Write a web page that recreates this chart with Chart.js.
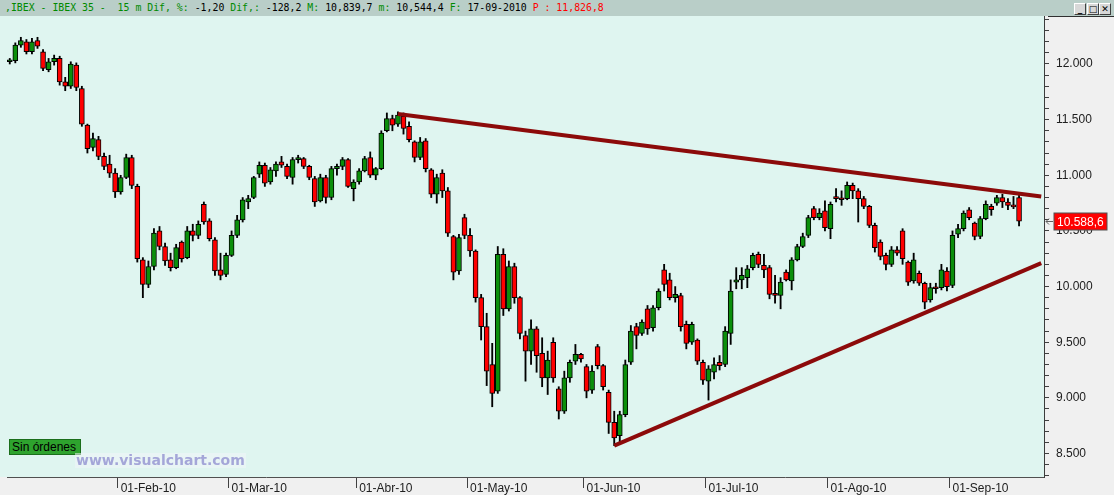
<!DOCTYPE html>
<html>
<head>
<meta charset="utf-8">
<script src="https://cdn.jsdelivr.net/npm/chart.js@4.4.1/dist/chart.umd.min.js"></script>
<style>
  html, body { margin: 0; padding: 0; background: #f0f0f0; }
  #wrap { position: relative; width: 1114px; height: 495px; overflow: hidden; }
  #bar { position: absolute; left: 0; top: 0; width: 1114px; height: 16px; background: #b9cec8;
         font: 9.85px "DejaVu Sans Mono", monospace; line-height: 16px; white-space: pre; }
  #bar .txt { position: absolute; left: 5px; top: 0; }
  .g { color: #008a00; } .k { color: #000; } .r { color: #ff0000; }
  .btn { position: absolute; top: 3px; width: 10px; height: 10px; background: #d8d8d8;
         border: 1px solid; border-color: #fff #404040 #404040 #fff; font: bold 9px "DejaVu Sans", sans-serif;
         line-height: 10px; text-align: center; color: #000; }
  #c { position: absolute; left: 0; top: 16px; }
  #orders { position: absolute; left: 9px; top: 439px; width: 68px; height: 14px; background: #2ea32e;
            border: 1px solid #1b6e1b; font: 12px "Liberation Sans", sans-serif; white-space: nowrap;
            line-height: 14px; color: #000; padding-left: 2px; }
  #wm { position: absolute; left: 75px; top: 453px; height: 15px; padding: 0 1px; background: rgba(240,244,250,0.55);
        font: bold 14px "DejaVu Sans", sans-serif; line-height: 15px; color: #a4a6d8; white-space: nowrap; }
</style>
</head>
<body>
<div id="wrap">
  <div id="bar"><span class="txt"><span class="g">,IBEX - IBEX 35 -  15 m Dif, %:</span> <span class="k">-1,20</span> <span class="g">Dif,:</span> <span class="k">-128,2</span> <span class="g">M:</span> <span class="k">10,839,7</span> <span class="g">m:</span> <span class="k">10,544,4</span> <span class="g">F:</span> <span class="k">17-09-2010</span> <span class="r">P : 11,826,8</span></span>
    <div class="btn" style="left:1074px">_</div>
    <div class="btn" style="left:1087px">&#9633;</div>
    <div class="btn" style="left:1099px">&#10005;</div>
  </div>
  <canvas id="c" width="1114" height="479"></canvas>
  <div id="orders">Sin órdenes</div>
  <div id="wm">www.visualchart.com</div>
</div>
<script>
/* IBEX 35, Jan-Sep 2010, one candle per session */

const monthNames = ['Ene', 'Feb', 'Mar', 'Abr', 'May', 'Jun', 'Jul', 'Ago', 'Sep'];
// trading sessions per month; the last four September days are empty room on the right
const sessionDays = [
  [4,5,6,7,8,11,12,13,14,15,18,19,20,21,22,25,26,27,28,29],
  [1,2,3,4,5,8,9,10,11,12,15,16,17,18,19,22,23,24,25,26],
  [1,2,3,4,5,8,9,10,11,12,15,16,17,18,19,22,23,24,25,26,29,30,31],
  [1,6,7,8,9,12,13,14,15,16,19,20,21,22,23,26,27,28,29,30],
  [3,4,5,6,7,10,11,12,13,14,17,18,19,20,21,24,25,26,27,28,31],
  [1,2,3,4,7,8,9,10,11,14,15,16,17,18,21,22,23,24,25,28,29,30],
  [1,2,5,6,7,8,9,12,13,14,15,16,19,20,21,22,23,26,27,28,29,30],
  [2,3,4,5,6,9,10,11,12,13,16,17,18,19,20,23,24,25,26,27,30,31],
  [1,2,3,6,7,8,9,10,13,14,15,16,17,20,21,22,23]
];

const opens = [
  12020,12030,12170,12200,12110,12210,12110,11950,12020,12050,11840,11800,11990,11780,11450,11250,11320,11170,11100,11020,
  10850,10980,11160,10900,10240,10020,10180,10500,10360,10240,10170,10400,10260,10500,10460,10740,10590,10420,10150,10110,
  10280,10460,10600,10760,10800,11010,11090,10940,11040,11120,11080,10980,11140,11150,11080,10970,10770,10980,10800,11060,11080,11140,10880,
  10940,11040,11160,11000,11060,11400,11510,11460,11530,11440,11300,11160,11310,11050,10830,11020,10860,10450,10140,10620,
  10460,10320,9900,9640,9300,9060,10290,9800,10180,9900,9560,9420,9620,9400,9180,9500,9080,8880,9180,9330,9390,
  9280,9070,9460,9290,9050,8780,8660,8850,9320,9640,9580,9800,9630,9810,10150,10060,9900,9920,9660,9500,9520,9320,
  9150,9230,9320,9300,9580,10040,10060,10080,10170,10290,10190,10170,9940,9920,10130,10050,10240,10360,10460,10700,10620,10680,
  10520,10800,10790,10790,10910,10860,10790,10720,10550,10400,10280,10200,10330,10500,10220,10050,10120,10030,9880,9990,9990,10140,
  10010,10470,10520,10690,10570,10450,10610,10720,10750,10800,10760,10730,10800
];
const highs = [
  12050,12190,12240,12220,12230,12240,12130,12050,12080,12070,11880,12020,12010,11800,11460,11380,11350,11200,11180,11060,
  11000,11190,11180,10920,10260,10230,10520,10540,10390,10300,10380,10410,10540,10560,10590,10760,10610,10440,10300,10300,
  10500,10640,10800,10820,10990,11120,11110,11070,11120,11170,11100,11160,11180,11160,11090,10990,11010,11000,11080,11100,11160,11150,10960,
  11060,11170,11210,11070,11400,11560,11540,11570,11560,11480,11310,11340,11330,11060,11010,11050,10890,10460,10470,10650,
  10520,10330,9930,9760,9490,10360,10340,10230,10210,9910,9600,9700,9640,9540,9420,9540,9100,9240,9340,9480,9400,
  9300,9290,9480,9300,9070,8880,8880,9340,9650,9670,9700,9830,9830,9980,10200,10120,10000,9940,9690,9680,9530,9340,
  9290,9360,9380,9640,10060,10170,10170,10190,10300,10310,10290,10190,10100,10080,10150,10260,10380,10480,10640,10720,10700,10770,
  10760,10880,10860,10940,10930,10880,10810,10730,10570,10420,10300,10360,10360,10520,10230,10300,10140,10040,10030,10030,10200,10170,
  10500,10560,10680,10710,10580,10630,10770,10740,10820,10830,10790,10810,10839.7
];
const lows = [
  12000,12010,12150,12090,12090,12140,11940,11930,11990,11810,11760,11780,11760,11440,11200,11220,11140,11050,10980,10800,
  10830,10970,10880,10220,9900,9990,10150,10330,10190,10140,10160,10220,10250,10410,10430,10560,10410,10100,10060,10090,
  10270,10440,10580,10700,10790,10980,10900,10920,10990,11070,10970,10920,11110,11060,10960,10720,10760,10750,10780,11000,11050,10890,10770,
  10920,11030,10980,10960,11050,11390,11400,11440,11370,11300,11120,11140,11030,10800,10750,10800,10450,10060,10110,10430,
  10270,9860,9520,9110,8920,9040,9740,9780,9850,9530,9150,9300,9230,9100,9030,9140,8810,8860,9140,9300,9320,
  9000,9040,9260,9070,8680,8570,8600,8830,9300,9440,9560,9570,9600,9790,9960,9880,9860,9600,9440,9480,9300,9120,
  8980,9170,9250,9280,9480,9980,9980,9990,10150,10170,10080,9890,9850,9800,10050,9970,10230,10350,10440,10600,10600,10500,
  10430,10760,10730,10780,10790,10580,10700,10530,10310,10240,10150,10180,10280,10200,10010,10030,10010,9800,9860,9940,9970,9960,
  9990,10440,10500,10600,10420,10430,10600,10640,10730,10710,10690,10700,10544.4
];
const closes = [
  12030,12170,12210,12110,12200,12160,11960,12020,12050,11840,11800,12000,11790,11460,11240,11330,11170,11080,11020,10850,
  10980,11160,10910,10250,10020,10180,10480,10360,10230,10170,10350,10250,10500,10460,10560,10580,10430,10140,10100,10280,
  10460,10600,10780,10790,10980,11090,10930,11050,11100,11090,10990,11140,11150,11080,10980,10760,10980,10800,11060,11080,11140,10900,10940,
  11040,11150,11000,11060,11380,11510,11450,11540,11420,11320,11160,11300,11060,10830,10980,10860,10480,10130,10440,10460,
  10320,9900,9640,9240,9040,10290,9800,10180,9900,9580,9420,9620,9380,9180,9340,9180,8880,9180,9320,9390,9350,
  9060,9240,9290,9100,8780,8640,8850,9300,9600,9560,9680,9620,9810,9960,10020,9900,9930,9640,9490,9660,9330,9160,
  9260,9300,9290,9600,9960,10060,10100,10160,10280,10200,10150,9930,9920,10040,10060,10240,10360,10450,10620,10620,10660,10530,
  10740,10790,10780,10910,10860,10790,10720,10550,10350,10270,10200,10330,10300,10250,10040,10240,10030,9860,9990,9980,10150,10000,
  10460,10520,10660,10620,10450,10610,10740,10690,10800,10760,10730,10716.8,10588.6
];

// hand-drawn trend lines: [session, level]
const resistance = [['2010-04-14', 11550], ['2010-09-23', 10810]];
const support = [['2010-06-08', 8570], ['2010-09-23', 10210]];

const lastClose = closes[closes.length - 1];

/* ---- category labels + month marks ---- */
const labels = [];
const monthMark = {};
sessionDays.forEach((days, m) => days.forEach((d, k) => {
  if (k === 0 && m > 0) monthMark[labels.length] = '01-' + monthNames[m] + '-10';
  labels.push('2010-' + String(m + 1).padStart(2, '0') + '-' + String(d).padStart(2, '0'));
}));

const fmtThousands = v => String(Math.round(v)).replace(/\B(?=(\d{3})+(?!\d))/g, '.');
const axisFont = { family: '"Liberation Sans", Arial, sans-serif', size: 12 };

/* ---- plugins: backgrounds and the last-price tag ---- */
const panelBg = {
  id: 'panelBg',
  beforeDraw(chart) {
    const { ctx, chartArea: a, width, height } = chart;
    ctx.save();
    ctx.fillStyle = '#f0f0f0';
    ctx.fillRect(0, 0, width, height);
    ctx.fillStyle = '#dff5f0';
    ctx.fillRect(0, 0, a.right, a.bottom);
    ctx.strokeStyle = '#303030';
    ctx.beginPath(); ctx.moveTo(a.right + 4, 0.5); ctx.lineTo(width, 0.5); ctx.stroke();
    ctx.restore();
  }
};

const priceTag = {
  id: 'priceTag',
  afterDraw(chart) {
    const { ctx, chartArea: a } = chart;
    const y = Math.round(chart.scales.y.getPixelForValue(lastClose)) + 0.5;
    ctx.save();
    ctx.strokeStyle = '#606060';
    ctx.beginPath();
    ctx.moveTo(a.right + 2, y); ctx.lineTo(a.right + 9, y);
    ctx.moveTo(a.right + 2, y); ctx.lineTo(a.right + 5, y - 3);
    ctx.moveTo(a.right + 2, y); ctx.lineTo(a.right + 5, y + 3);
    ctx.stroke();
    ctx.fillStyle = '#ff0000';
    ctx.fillRect(a.right + 10, y - 8.5, 53, 17);
    ctx.strokeStyle = '#505050';
    ctx.strokeRect(a.right + 10, y - 8.5, 53, 17);
    ctx.fillStyle = '#ffffff';
    ctx.font = axisFont.size + 'px ' + axisFont.family;
    ctx.textBaseline = 'middle';
    ctx.fillText(fmtThousands(Math.floor(lastClose)) + ',' + String(lastClose).split('.')[1], a.right + 13, y + 1);
    ctx.restore();
  }
};

new Chart(document.getElementById('c'), {
  type: 'bar',
  data: {
    labels,
    datasets: [
      { type: 'line', data: resistance.map(p => ({ x: p[0], y: p[1] })), borderColor: '#8c0a0a', borderWidth: 4,
        pointRadius: 0, order: 0 },
      { type: 'line', data: support.map(p => ({ x: p[0], y: p[1] })), borderColor: '#8c0a0a', borderWidth: 4,
        pointRadius: 0, order: 0 },
      { data: opens.map((o, i) => [o, closes[i]]), grouped: false, barThickness: 5, minBarLength: 2,
        backgroundColor: c => closes[c.dataIndex] >= opens[c.dataIndex] ? '#0b8f0b' : '#ff0000',
        borderColor: '#000', borderWidth: 1, borderSkipped: false, order: 1 },
      { data: lows.map((l, i) => [l, highs[i]]), grouped: false, barThickness: 1.2,
        backgroundColor: '#000', borderWidth: 0, order: 2 }
    ]
  },
  options: {
    responsive: false,
    animation: false,
    devicePixelRatio: 1,
    layout: { padding: { left: 7, right: 0, top: 0, bottom: 0 } },
    plugins: { legend: { display: false }, tooltip: { enabled: false } },
    scales: {
      x: {
        offset: true,
        grid: { offset: true, drawOnChartArea: false, tickLength: 11,
                tickColor: c => monthMark[c.index] ? '#404040' : 'rgba(0,0,0,0)' },
        border: { color: '#505050' },
        ticks: { autoSkip: false, maxRotation: 0, minRotation: 0, align: 'start', padding: -7,
                 color: '#202020', font: axisFont,
                 callback: (v, i) => monthMark[i] || '' },
        afterFit: s => { s.height = 18; s.paddingLeft = 0; s.paddingRight = 0; }
      },
      y: {
        position: 'right',
        min: 8288.8,
        max: 12431.3,
        grid: { drawOnChartArea: false, tickLength: 5, color: '#404040' },
        border: { color: '#3c3c3c' },
        ticks: { stepSize: 100, autoSkip: false, includeBounds: false, padding: 7, color: '#202020',
                 font: axisFont, callback: v => v % 500 === 0 ? fmtThousands(v) : '' },
        afterFit: s => { s.width = 70; s.paddingTop = 0; s.paddingBottom = 0; }
      }
    }
  },
  plugins: [panelBg, priceTag]
});
</script>
</body>
</html>
